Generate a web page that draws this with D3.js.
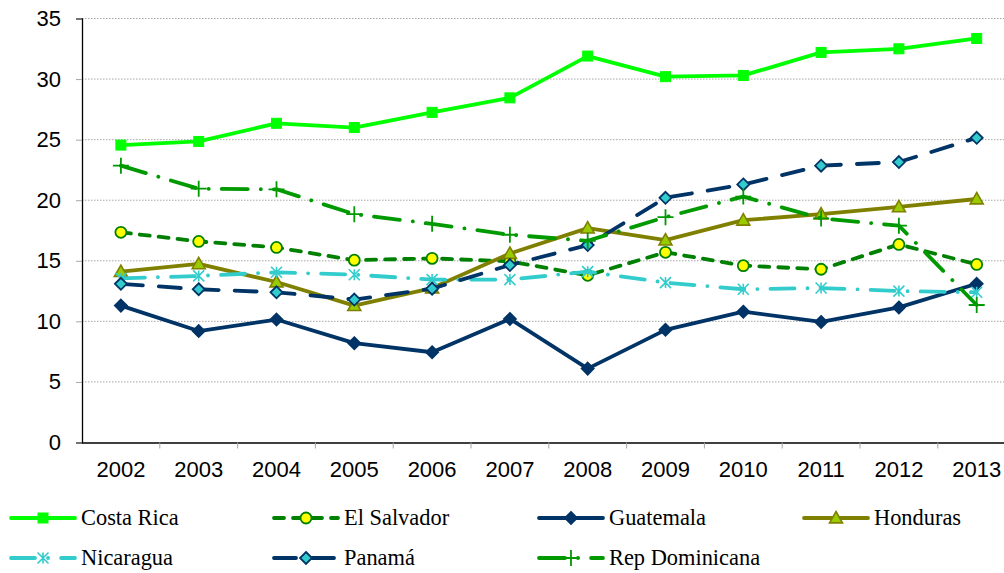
<!DOCTYPE html>
<html>
<head>
<meta charset="utf-8">
<script src="https://cdn.jsdelivr.net/npm/d3@7/dist/d3.min.js"></script>
<style>
  html, body { margin: 0; padding: 0; background: #fff; }
  svg { display: block; }
  .axis text { font-family: "Liberation Sans", Arial, Helvetica, sans-serif; font-size: 22px; fill: #000; }
  .legend text { font-family: "Liberation Serif", "Times New Roman", Times, serif; font-size: 22.4px; fill: #000; }
</style>
</head>
<body>
<svg id="chart" width="1004" height="573"></svg>
<script>
// Years on the category axis
const years = ["2002","2003","2004","2005","2006","2007","2008","2009","2010","2011","2012","2013"];
const yTicks = [0, 5, 10, 15, 20, 25, 30, 35];

// Series values per country
const costaRica   = [24.55, 24.85, 26.35, 26.0, 27.25, 28.45, 31.9, 30.2, 30.3, 32.2, 32.5, 33.35];
const elSalvador  = [17.35, 16.6, 16.1, 15.05, 15.2, 14.95, 13.8, 15.7, 14.6, 14.3, 16.35, 14.7];
const guatemala   = [11.3, 9.2, 10.15, 8.2, 7.45, 10.2, 6.1, 9.3, 10.8, 9.95, 11.15, 13.1];
const honduras    = [14.1, 14.75, 13.25, 11.3, 12.75, 15.6, 17.7, 16.7, 18.35, 18.85, 19.45, 20.1];
const nicaragua   = [13.55, 13.75, 14.05, 13.85, 13.45, 13.45, 14.1, 13.2, 12.65, 12.75, 12.5, 12.4];
const panama      = [13.1, 12.65, 12.4, 11.8, 12.7, 14.65, 16.3, 20.2, 21.3, 22.85, 23.15, 25.15];
const repDom      = [22.85, 20.95, 20.9, 18.85, 18.05, 17.15, 16.65, 18.6, 20.3, 18.5, 17.9, 11.35];

const seriesNames = ["Costa Rica", "El Salvador", "Guatemala", "Honduras", "Nicaragua", "Panamá", "Rep Dominicana"];
const seriesValues = [costaRica, elSalvador, guatemala, honduras, nicaragua, panama, repDom];

// Line and marker styling per series
const styles = [
  { stroke: "#00ff00", dash: null,            marker: "square",   fill: "#00ff00", mstroke: "#00ff00" },
  { stroke: "#008000", dash: "10,9",          marker: "circle",   fill: "#ffff00", mstroke: "#008000" },
  { stroke: "#003366", dash: null,            marker: "diamond",  fill: "#003366", mstroke: "#003366" },
  { stroke: "#808000", dash: null,            marker: "triangle", fill: "#99cc00", mstroke: "#808000" },
  { stroke: "#33cccc", dash: "24,13,0.1,13",  marker: "asterisk", fill: "none",    mstroke: "#33cccc" },
  { stroke: "#003366", dash: "22,16",         marker: "diamond",  fill: "#33cccc", mstroke: "#003366" },
  { stroke: "#009900", dash: "26,13,0.1,13",  marker: "plus",     fill: "none",    mstroke: "#009900" }
];

const svg = d3.select("#chart");
const plotLeft = 82, plotTop = 18.5, plotBottom = 442.5;
const band = 77.8;

const x = d3.scaleBand().domain(years).range([plotLeft, plotLeft + band * years.length]).paddingInner(0).paddingOuter(0);
const y = d3.scaleLinear().domain([0, 35]).range([plotBottom, plotTop]);
const cx = d => x(d) + x.bandwidth() / 2;

// Horizontal dotted gridlines
svg.append("g")
  .selectAll("line")
  .data(yTicks.filter(t => t > 0))
  .join("line")
  .attr("x1", plotLeft).attr("x2", 1004)
  .attr("y1", d => y(d)).attr("y2", d => y(d))
  .attr("stroke", "#a6a6a6").attr("stroke-width", 1)
  .attr("stroke-dasharray", "1.5,1.5");

// Y axis
const yAxis = d3.axisLeft(y).tickValues(yTicks).tickSize(6).tickPadding(15);
const gy = svg.append("g").attr("class", "axis").attr("transform", `translate(${plotLeft},0)`).call(yAxis);
gy.attr("font-family", null).attr("font-size", null);
gy.select(".domain").attr("stroke", "#000").attr("stroke-width", 1.3);
gy.selectAll(".tick line").attr("stroke", "#a6a6a6");

// X axis (tick marks on category boundaries)
const xAxis = d3.axisBottom(x).tickSize(0).tickPadding(19);
const gx = svg.append("g").attr("class", "axis").attr("transform", `translate(0,${plotBottom})`).call(xAxis);
gx.attr("font-family", null).attr("font-size", null);
gx.select(".domain").attr("stroke", "#000").attr("stroke-width", 1.3);
svg.append("g")
  .selectAll("line")
  .data(years.slice(1))
  .join("line")
  .attr("x1", d => x(d)).attr("x2", d => x(d))
  .attr("y1", plotBottom).attr("y2", plotBottom + 6)
  .attr("stroke", "#a6a6a6");

// Marker drawing
function drawMarker(g, type, st, px, py) {
  if (type === "square") {
    g.append("rect").attr("x", px - 5).attr("y", py - 5).attr("width", 10).attr("height", 10)
      .attr("fill", st.fill).attr("stroke", st.mstroke);
  } else if (type === "circle") {
    g.append("circle").attr("cx", px).attr("cy", py).attr("r", 5.5)
      .attr("fill", st.fill).attr("stroke", st.mstroke).attr("stroke-width", 1.8);
  } else if (type === "diamond") {
    const r = 6;
    g.append("path").attr("d", `M${px},${py - r}L${px + r},${py}L${px},${py + r}L${px - r},${py}Z`)
      .attr("fill", st.fill).attr("stroke", st.mstroke).attr("stroke-width", 1.8);
  } else if (type === "triangle") {
    const r = 6.5;
    g.append("path").attr("d", `M${px},${py - r}L${px + r},${py + r * 0.75}L${px - r},${py + r * 0.75}Z`)
      .attr("fill", st.fill).attr("stroke", st.mstroke).attr("stroke-width", 1.6);
  } else if (type === "asterisk") {
    const r = 5.5;
    const p = `M${px - r},${py - r}L${px + r},${py + r}M${px - r},${py + r}L${px + r},${py - r}M${px},${py - r}L${px},${py + r}`;
    g.append("path").attr("d", p).attr("stroke", st.mstroke).attr("stroke-width", 1.6).attr("fill", "none");
  } else if (type === "plus") {
    const r = 8;
    g.append("path").attr("d", `M${px - r},${py}L${px + r},${py}M${px},${py - r}L${px},${py + r}`)
      .attr("stroke", st.mstroke).attr("stroke-width", 1.8).attr("fill", "none");
  }
}

// Lines and markers
const line = d3.line().x((d, i) => cx(years[i])).y(d => y(d));
const plot = svg.append("g");
seriesValues.forEach((vals, si) => {
  const st = styles[si];
  const g = plot.append("g");
  g.append("path").datum(vals).attr("d", line)
    .attr("fill", "none").attr("stroke", st.stroke).attr("stroke-width", 3.8)
    .attr("stroke-linecap", "round").attr("stroke-linejoin", "round")
    .attr("stroke-dasharray", st.dash);
  vals.forEach((v, i) => drawMarker(g, st.marker, st, cx(years[i]), y(v)));
});

// Legend
const legendCols = [10, 273, 538, 803];
const legendRows = [518, 558];
const legend = svg.append("g").attr("class", "legend");
seriesNames.forEach((name, i) => {
  const st = styles[i];
  const lx = legendCols[i % 4], ly = legendRows[Math.floor(i / 4)];
  const g = legend.append("g");
  g.append("line").attr("x1", lx + 1).attr("x2", lx + 65).attr("y1", ly).attr("y2", ly)
    .attr("stroke", st.stroke).attr("stroke-width", 3.8)
    .attr("stroke-linecap", "round")
    .attr("stroke-dasharray", st.dash);
  drawMarker(g, st.marker, st, lx + 33, ly);
  g.append("text").attr("x", lx + 71).attr("y", ly + 7).text(name);
});
</script>
</body>
</html>
